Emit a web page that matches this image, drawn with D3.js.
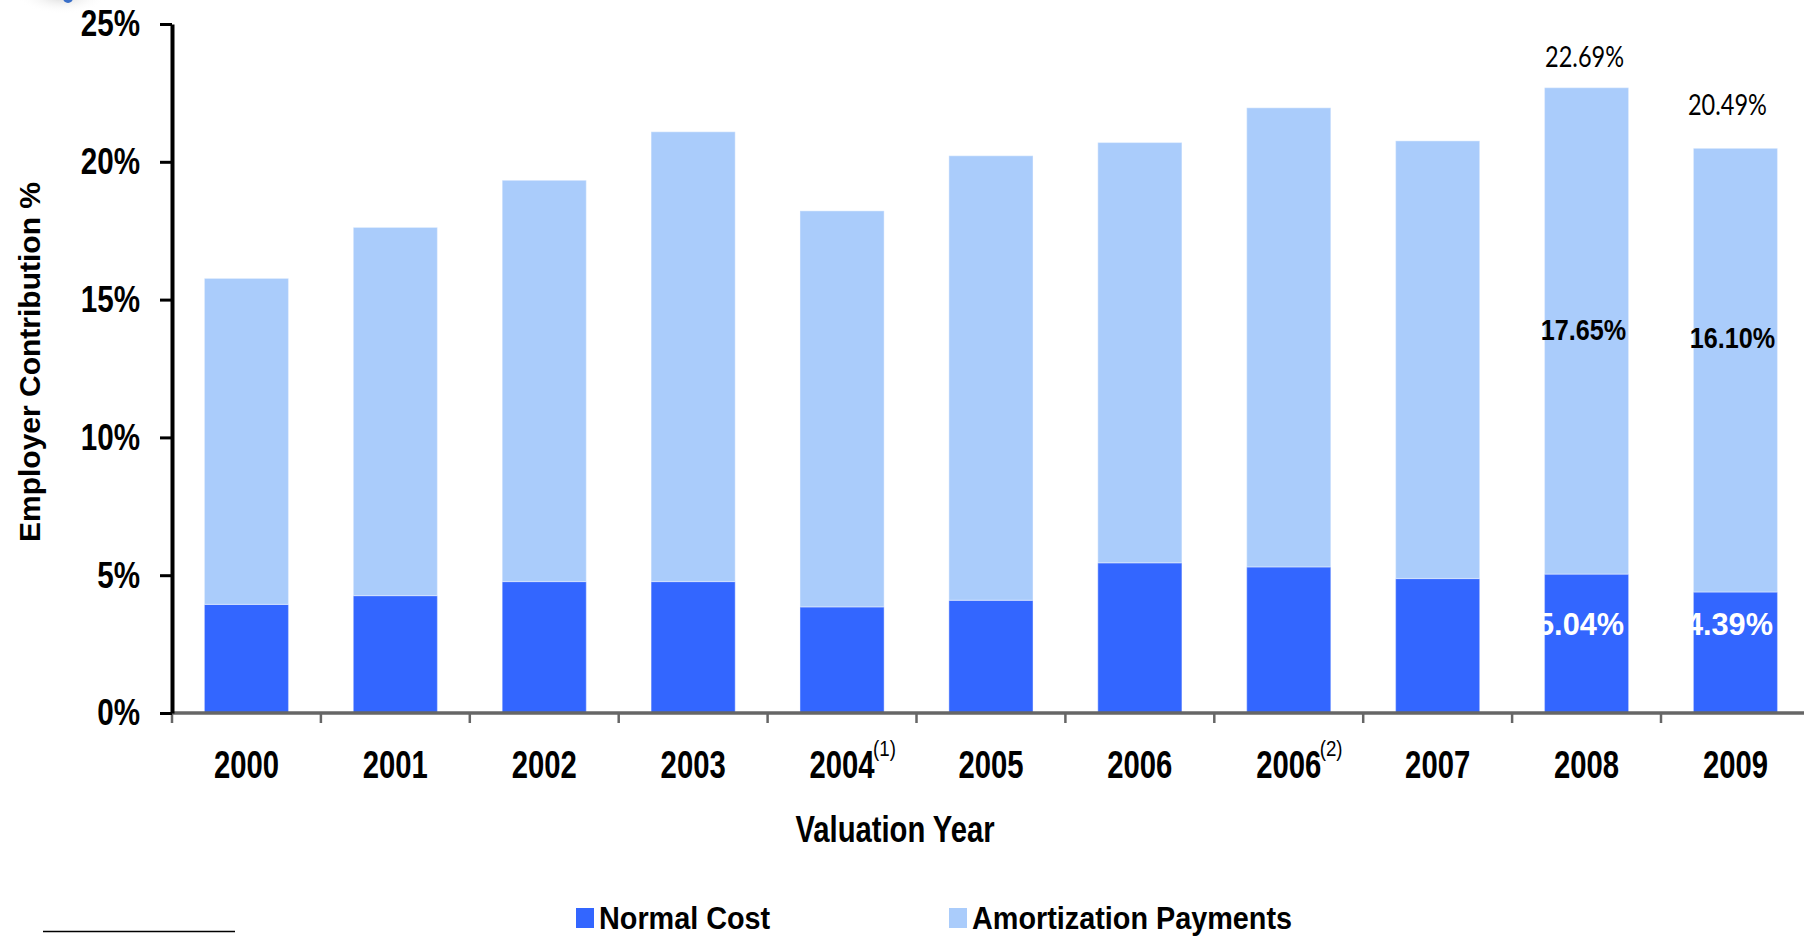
<!DOCTYPE html>
<html lang="en">
<head>
  <meta charset="UTF-8">
  <title>Employer Contribution %</title>
  <script src="https://d3js.org/d3.v7.min.js"></script>
  <style>
    body {
      margin: 0;
      background: #fff;
    }
    svg text {
      font-family: "Liberation Sans", Arial, sans-serif;
    }
    .axis-y path, .axis-y line {
      stroke: #000;
    }
    .axis-x line {
      stroke: #666;
    }
  </style>
</head>
<body>
  <div id="chart"></div>

  <script>
    // data
    const years = ["2000", "2001", "2002", "2003", "2004", "2005", "2006", "2006", "2007", "2008", "2009"];
    const notes = ["", "", "", "", "(1)", "", "", "(2)", "", "", ""];
    const normalCost = [3.94, 4.26, 4.77, 4.77, 3.85, 4.09, 5.45, 5.30, 4.88, 5.04, 4.39];
    const totalCost = [15.77, 17.62, 19.33, 21.09, 18.22, 20.22, 20.70, 21.96, 20.76, 22.69, 20.49];
    const amortization = totalCost.map((t, i) => t - normalCost[i]);
    const yTicks = [0, 5, 10, 15, 20, 25];
    const seriesNames = ["Normal Cost", "Amortization Payments"];
    const colors = ["#3366FF", "#AACCFB"];

    const width = 1804, height = 937;
    const mLeft = 172, mTop = 24, mBottom = 713;

    const svg = d3.select("#chart")
      .append("svg")
      .attr("width", width)
      .attr("height", height);

    // faint logo remnant in the corner
    const grad = svg.append("defs").append("radialGradient").attr("id", "blob");
    grad.append("stop").attr("offset", "0%").attr("stop-color", "#bbb").attr("stop-opacity", 0.6);
    grad.append("stop").attr("offset", "100%").attr("stop-color", "#fff").attr("stop-opacity", 0);
    svg.append("ellipse").attr("cx", 62).attr("cy", -4).attr("rx", 45).attr("ry", 18).attr("fill", "url(#blob)");
    svg.append("circle").attr("cx", 68).attr("cy", -2).attr("r", 5).attr("fill", "#3a6fc8");

    const x = d3.scaleBand()
      .domain(d3.range(years.length))
      .range([mLeft, mLeft + 11 * 148.9])
      .paddingInner(0.435)
      .paddingOuter(0.2175);

    const xTick = d3.scaleBand()
      .domain(d3.range(years.length))
      .range([mLeft, mLeft + 11 * 148.9]);

    const y = d3.scaleLinear().domain([0, 25]).range([mBottom, mTop]);

    const stacked = d3.stack().keys([0, 1])
      .value((d, k) => k === 0 ? normalCost[d] : amortization[d])(d3.range(years.length));

    svg.append("g").selectAll("g")
      .data(stacked)
      .enter().append("g")
      .attr("fill", (d, i) => colors[i])
      .selectAll("rect")
      .data(d => d)
      .enter().append("rect")
      .attr("x", d => x(d.data))
      .attr("width", x.bandwidth())
      .attr("y", d => y(d[1]))
      .attr("height", d => y(d[0]) - y(d[1]))
      .attr("stroke", "#fff")
      .attr("stroke-opacity", 0.35)
      .attr("stroke-width", 1.2);

    // x axis (gray) with ticks at band edges
    const gx = svg.append("g")
      .attr("class", "axis-x")
      .attr("transform", `translate(0,${mBottom})`);
    gx.append("line")
      .attr("x1", mLeft).attr("x2", width)
      .attr("stroke-width", 3.5);
    gx.selectAll("line.tk")
      .data(d3.range(years.length))
      .enter().append("line")
      .attr("class", "tk")
      .attr("x1", d => xTick(d)).attr("x2", d => xTick(d))
      .attr("y1", 0).attr("y2", 10)
      .attr("stroke-width", 2.5);

    const lab = gx.selectAll("g.lab")
      .data(d3.range(years.length))
      .enter().append("g")
      .attr("class", "lab")
      .attr("transform", d => `translate(${x(d) + x.bandwidth() / 2},65)`);
    lab.append("text")
      .attr("text-anchor", "middle")
      .attr("transform", "scale(0.77,1)")
      .style("font-size", "38px")
      .style("font-weight", "bold")
      .text(d => years[d]);
    lab.filter(d => notes[d] !== "")
      .append("text")
      .attr("transform", "translate(31,-22) scale(0.85,1)")
      .style("font-size", "22px")
      .text(d => notes[d]);

    // y axis (black)
    const gy = svg.append("g")
      .attr("class", "axis-y")
      .attr("transform", `translate(${mLeft},0)`)
      .call(d3.axisLeft(y).tickValues(yTicks).tickSize(12).tickSizeOuter(0).tickFormat(d => d + "%"));
    gy.select(".domain").attr("stroke-width", 4);
    gy.selectAll(".tick line").attr("stroke-width", 3);
    gy.selectAll(".tick text")
      .attr("x", -32 / 0.8)
      .attr("transform", "scale(0.8,1)")
      .attr("fill", "#000")
      .style("font-size", "37px")
      .style("font-weight", "bold");

    // axis titles
    svg.append("text")
      .attr("transform", "translate(895,842) scale(0.79,1)")
      .attr("text-anchor", "middle")
      .style("font-size", "37px")
      .style("font-weight", "bold")
      .text("Valuation Year");

    svg.append("text")
      .attr("transform", "translate(40,362) rotate(-90)")
      .attr("text-anchor", "middle")
      .style("font-size", "30px")
      .style("font-weight", "bold")
      .text("Employer Contribution %");

    // value labels on the last two bars
    const fmt = v => v.toFixed(2) + "%";
    const cx = i => x(i) + x.bandwidth() / 2;
    [9, 10].forEach((i, k) => {
      svg.append("text")
        .attr("transform", `translate(${cx(i) - [2, 8][k]},${y(totalCost[i]) - [21, 33][k]}) scale(0.84,1)`)
        .attr("text-anchor", "middle")
        .style("font-family", "Lato, 'Liberation Sans', sans-serif")
        .style("font-size", "28px")
        .text(fmt(totalCost[i]));
      svg.append("text")
        .attr("transform", `translate(${cx(i) - 3},${y([13.93, 13.66][k]) + 11}) scale(0.84,1)`)
        .attr("text-anchor", "middle")
        .style("font-size", "30px")
        .style("font-weight", "bold")
        .text(fmt(amortization[i]));
      svg.append("text")
        .attr("transform", `translate(${cx(i) - 6},${y(3.25) + 12}) scale(0.96,1)`)
        .attr("text-anchor", "middle")
        .attr("fill", "#fff")
        .style("font-size", "32px")
        .style("font-weight", "bold")
        .text(fmt(normalCost[i]));
    });

    // legend
    const legendX = [576, 949];
    seriesNames.forEach((name, i) => {
      svg.append("rect")
        .attr("x", legendX[i]).attr("y", 908)
        .attr("width", 18).attr("height", 20)
        .attr("fill", colors[i]);
      svg.append("text")
        .attr("transform", `translate(${legendX[i] + 23},929) scale(0.9,1)`)
        .style("font-size", "32px")
        .style("font-weight", "bold")
        .text(name);
    });

    // footnote rule
    svg.append("line")
      .attr("x1", 43).attr("x2", 235)
      .attr("y1", 931.5).attr("y2", 931.5)
      .attr("stroke", "#000")
      .attr("stroke-width", 1.5);
  </script>
</body>
</html>
